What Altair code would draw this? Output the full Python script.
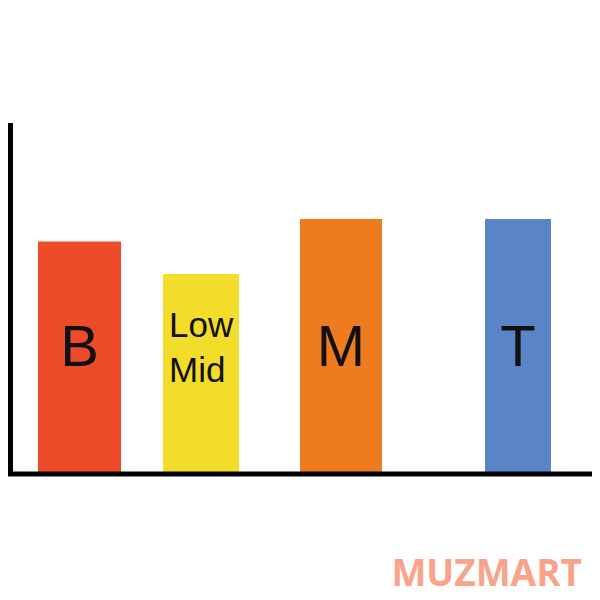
import altair as alt
import pandas as pd

# Bars: label, start, end (horizontal units), height (vertical units), colour
bands = ["B", "Low Mid", "M", "T"]
band_start = [3.0, 15.5, 29.2, 47.7]
band_end = [11.3, 23.1, 37.4, 54.3]
band_level = [46.5, 40.0, 51.0, 51.0]
band_colors = ["#EE4B2B", "#F2DD2A", "#EE7C1F", "#5985C8"]

# axis extents
x_max = 58.4
y_axis_top = 70.2

df = pd.DataFrame({
    "band": bands,
    "x0": band_start,
    "x1": band_end,
    "level": band_level,
})

xs = alt.Scale(domain=[0, x_max], nice=False, zero=False)
ys = alt.Scale(domain=[0, 93.2], nice=False, zero=False)

bars = alt.Chart(df).mark_bar(cornerRadius=0).encode(
    x=alt.X("x0:Q", scale=xs, axis=None),
    x2="x1:Q",
    y=alt.Y("level:Q", scale=ys, axis=None),
    y2=alt.datum(0),
    color=alt.Color("band:N", scale=alt.Scale(domain=bands, range=band_colors), legend=None),
)

big = df[df["band"] != "Low Mid"]
big_text = alt.Chart(big).transform_calculate(
    cx="(datum.x0 + datum.x1) / 2"
).mark_text(
    font="Liberation Sans", fontSize=58, color="#111111", align="center", baseline="middle"
).encode(
    x=alt.X("cx:Q", scale=xs),
    y=alt.datum(25.0, scale=ys),
    text="band:N",
)

low = df[df["band"] == "Low Mid"]
low_text = alt.Chart(low).mark_text(
    font="Liberation Sans", fontSize=35, color="#111111", align="left", baseline="alphabetic",
    lineBreak=" ", lineHeight=45, dx=6
).encode(
    x=alt.X("x0:Q", scale=xs),
    y=alt.datum(27.4, scale=ys),
    text="band:N",
)

axes_df = pd.DataFrame({"x": [0.0, 0.25], "x2": [x_max, 0.25], "y": [0.0, 0.0], "y2": [0.0, y_axis_top]})
axis_rules = alt.Chart(axes_df).mark_rule(color="black", strokeWidth=5, strokeCap="butt").encode(
    x=alt.X("x:Q", scale=xs), x2="x2:Q",
    y=alt.Y("y:Q", scale=ys), y2="y2:Q",
)

wm = alt.Chart(pd.DataFrame({"t": ["MUZMART"]})).mark_text(
    font="Open Sans", fontWeight="bold", fontSize=37, color="#F9A38A",
    align="right", baseline="alphabetic"
).encode(
    x=alt.value(574), y=alt.value(578), text="t:N"
)

chart = alt.layer(bars, big_text, low_text, axis_rules, wm).properties(
    width=584, height=466,
    background="white",
    padding={"left": 0, "top": 0, "right": 0, "bottom": 118},
    autosize=alt.AutoSizeParams(type="none"),
).configure_view(stroke=None, strokeWidth=0)

chart.save("out.html", embed_options={"renderer": "svg", "actions": False})
